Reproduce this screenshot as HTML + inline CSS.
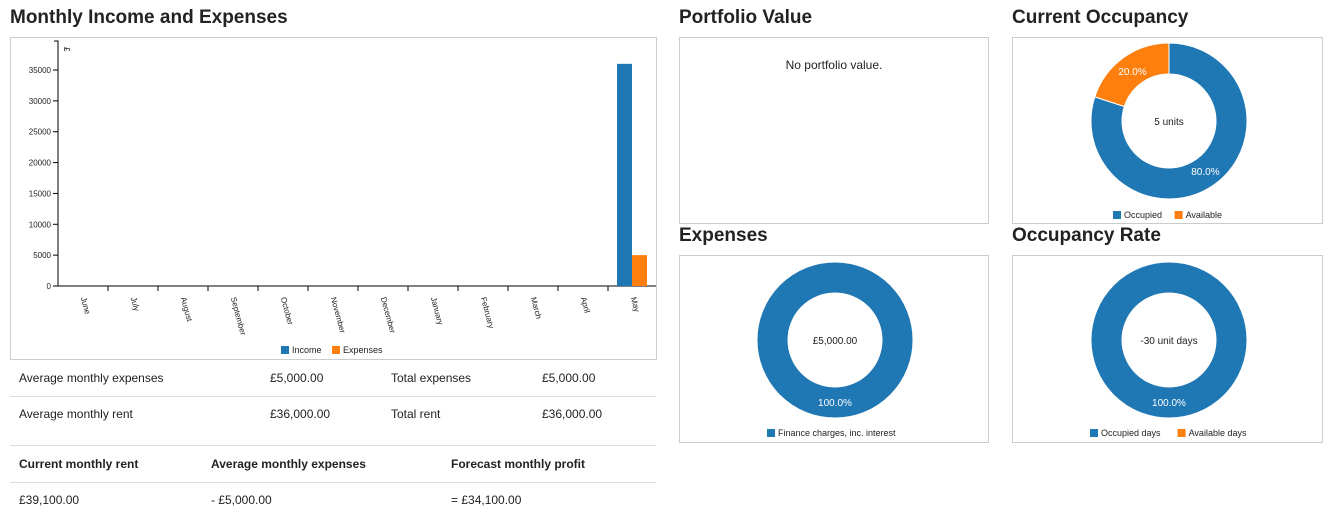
<!DOCTYPE html>
<html><head><meta charset="utf-8"><style>
body{margin:0;width:1340px;height:531px;background:#fff;font-family:"Liberation Sans",sans-serif;color:#222;position:relative;overflow:hidden}
.h{position:absolute;font-size:19px;font-weight:bold;margin:0;color:#222}
.box{position:absolute;border:1px solid #ccc;box-sizing:border-box}
.t{position:absolute;font-size:12px}
.row{position:absolute;left:10px;width:646px;border-bottom:1px solid #ddd}
</style></head><body>
<div class="h" style="left:10px;top:7px">Monthly Income and Expenses</div>
<div class="h" style="left:679px;top:7px">Portfolio Value</div>
<div class="h" style="left:1012px;top:7px">Current Occupancy</div>
<div class="h" style="left:679px;top:225px">Expenses</div>
<div class="h" style="left:1012px;top:225px">Occupancy Rate</div>

<svg class="box" style="left:10px;top:37px" width="647" height="323">
<g id="bar" transform="translate(-10,-37)"></g></svg>
<div class="box" style="left:679px;top:37px;width:310px;height:187px"><div style="text-align:center;margin-top:20px;font-size:12px">No portfolio value.</div></div>
<svg class="box" style="left:1012px;top:37px" width="311" height="187"><g id="d1" transform="translate(-1012,-37)"></g></svg>
<svg class="box" style="left:679px;top:255px" width="310" height="188"><g id="d2" transform="translate(-679,-255)"></g></svg>
<svg class="box" style="left:1012px;top:255px" width="311" height="188"><g id="d3" transform="translate(-1012,-255)"></g></svg>

<div class="row" style="top:360px;height:36px"></div>
<div class="row" style="top:396px;height:49px"></div>
<div class="row" style="top:445px;height:37px"></div>
<div class="t" style="left:19px;top:371px">Average monthly expenses</div>
<div class="t" style="left:270px;top:371px">£5,000.00</div>
<div class="t" style="left:391px;top:371px">Total expenses</div>
<div class="t" style="left:542px;top:371px">£5,000.00</div>
<div class="t" style="left:19px;top:407px">Average monthly rent</div>
<div class="t" style="left:270px;top:407px">£36,000.00</div>
<div class="t" style="left:391px;top:407px">Total rent</div>
<div class="t" style="left:542px;top:407px">£36,000.00</div>
<div class="t" style="left:19px;top:457px;font-weight:bold">Current monthly rent</div>
<div class="t" style="left:211px;top:457px;font-weight:bold">Average monthly expenses</div>
<div class="t" style="left:451px;top:457px;font-weight:bold">Forecast monthly profit</div>
<div class="t" style="left:19px;top:493px">£39,100.00</div>
<div class="t" style="left:211px;top:493px">- £5,000.00</div>
<div class="t" style="left:451px;top:493px">= £34,100.00</div>

<script>
const months=["June","July","August","September","October","November","December","January","February","March","April","May"];
const income=[0,0,0,0,0,0,0,0,0,0,0,36000];
const expenses=[0,0,0,0,0,0,0,0,0,0,0,5000];
const yTicks=[0,5000,10000,15000,20000,25000,30000,35000];
const occupancy=[80,20];
const occLabels=["Occupied","Available"];
const expenseShares=[100];
const expLabels=["Finance charges, inc. interest"];
const rateShares=[100,0];
const rateLabels=["Occupied days","Available days"];
const NS="http://www.w3.org/2000/svg";
const C=["#1f77b4","#ff7f0e"];
function mk(p,t,a){const e=document.createElementNS(NS,t);for(const k in a)e.setAttribute(k,a[k]);p.appendChild(e);return e;}
const g=document.getElementById('bar');
const x0=57,bw=50,y0=285;
const y=v=>y0-v*216/35000;
const ax=mk(g,'path',{d:`M${x0-4},40H${x0}V${y0}H${x0+bw*12}V${y0+4}`,stroke:'#000',fill:'none','shape-rendering':'crispEdges'});

const ul=mk(g,'text',{x:63,y:46,'font-size':8,transform:'rotate(90 63 46)'});ul.textContent='£';
yTicks.forEach(v=>{
 const l=mk(g,'line',{x1:x0-5,x2:x0,y1:y(v),y2:y(v),stroke:'#000'});
 
 const t=mk(g,'text',{x:x0-7,y:y(v)+3,'font-size':8,'text-anchor':'end',fill:'#222'});t.textContent=v;
 
});
months.forEach((m,i)=>{
 const bx=x0+i*bw;
 mk(g,'line',{x1:bx+bw,x2:bx+bw,y1:y0,y2:y0+5,stroke:'#000'});
 const cx=bx+bw/2;
 const t=mk(g,'text',{x:cx,y:y0+9,'font-size':8,fill:'#222',transform:`rotate(75 ${cx-3} ${y0+9})`});t.textContent=m;
 
 const b1=mk(g,'rect',{x:bx+9,y:y(income[i]),width:15,height:y0-y(income[i]),fill:C[0]});
 
 const b2=mk(g,'rect',{x:bx+24,y:y(expenses[i]),width:15,height:y0-y(expenses[i]),fill:C[1]});
 
});
[["Income",280],["Expenses",331]].forEach((l,i)=>{
 mk(g,'rect',{x:l[1],y:345,width:8,height:8,fill:C[i]});
 const t=mk(g,'text',{x:l[1]+11,y:352,'font-size':9,fill:'#222'});t.textContent=l[0];
 
});
function donut(id,cx,cy,vals,center,labels,legX,legY){
 const g=document.getElementById(id);const R=78,r=47;const tot=vals.reduce((a,b)=>a+b,0);let a=0;
 vals.forEach((v,i)=>{
  if(!v)return;const f=v/tot;const a1=a+f*2*Math.PI;
  let p;
  if(f>=0.9999){
   p=`M${cx},${cy-R}A${R},${R} 0 1 1 ${cx},${cy+R}A${R},${R} 0 1 1 ${cx},${cy-R}Z`+
     `M${cx},${cy-r}A${r},${r} 0 1 0 ${cx},${cy+r}A${r},${r} 0 1 0 ${cx},${cy-r}Z`;
  } else {const L=f>0.5?1:0;const P=(ang,rr)=>[cx+rr*Math.sin(ang),cy-rr*Math.cos(ang)];
  const [x1,y1]=P(a,R),[x2,y2]=P(a1,R),[x3,y3]=P(a1,r),[x4,y4]=P(a,r);
  p=`M${x1},${y1}A${R},${R} 0 ${L} 1 ${x2},${y2}L${x3},${y3}A${r},${r} 0 ${L} 0 ${x4},${y4}Z`;}
  const s=mk(g,'path',{d:p,fill:C[i],stroke:'#fff','stroke-width':1,'fill-rule':'evenodd'});
  
  const m=(a+a1)/2;const mm=f>=0.9999?Math.PI:m;
  const t=mk(g,'text',{x:cx+62*Math.sin(mm),y:cy-62*Math.cos(mm)+4,'font-size':10,'text-anchor':'middle',fill:'#fff'});t.textContent=v.toFixed(1)+'%';
  a=a1;
 });
 const c=mk(g,'text',{x:cx,y:cy+4,'font-size':10,'text-anchor':'middle',fill:'#222'});c.textContent=center;
 let lx=legX;
 labels.forEach((l,i)=>{
  mk(g,'rect',{x:lx,y:legY-7,width:8,height:8,fill:C[i]});
  const t=mk(g,'text',{x:lx+11,y:legY,'font-size':9,fill:'#222'});t.textContent=l;
  
  lx+=11+l.length*5.2+9;
 });
}
donut('d1',1168,120,occupancy,'5 units',occLabels,1112,217);
donut('d2',834,339,expenseShares,'£5,000.00',expLabels,766,435);
donut('d3',1168,339,rateShares,'-30 unit days',rateLabels,1089,435);
</script>
</body></html>
